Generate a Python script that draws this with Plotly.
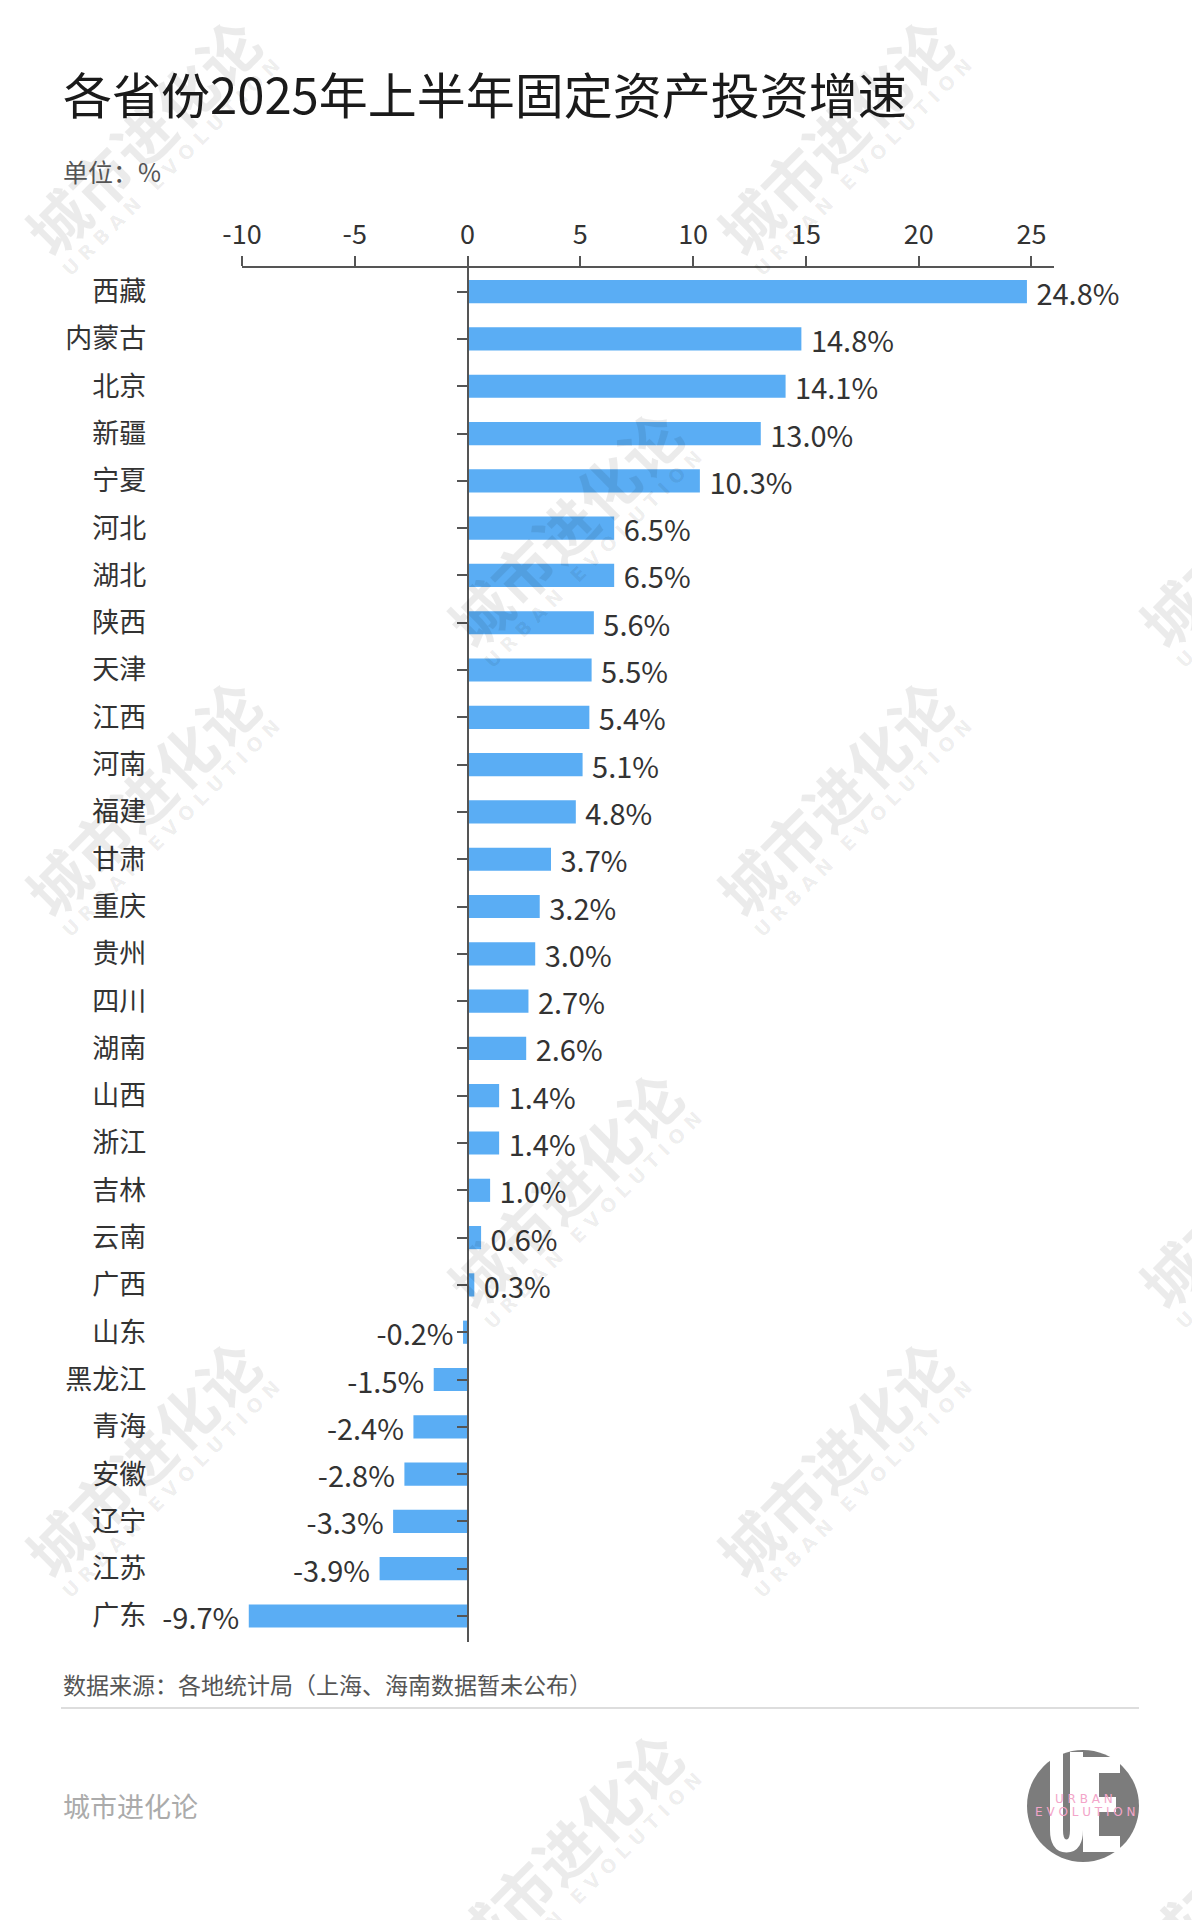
import plotly.graph_objects as go

provinces = ["西藏", "内蒙古", "北京", "新疆", "宁夏", "河北", "湖北", "陕西", "天津", "江西",
             "河南", "福建", "甘肃", "重庆", "贵州", "四川", "湖南", "山西", "浙江", "吉林",
             "云南", "广西", "山东", "黑龙江", "青海", "安徽", "辽宁", "江苏", "广东"]
growth = [24.8, 14.8, 14.1, 13.0, 10.3, 6.5, 6.5, 5.6, 5.5, 5.4,
          5.1, 4.8, 3.7, 3.2, 3.0, 2.7, 2.6, 1.4, 1.4, 1.0,
          0.6, 0.3, -0.2, -1.5, -2.4, -2.8, -3.3, -3.9, -9.7]
x_ticks = [-10, -5, 0, 5, 10, 15, 20, 25]
x_range = [-10, 26]

title = "各省份2025年上半年固定资产投资增速"
unit = "单位：%"
source = "数据来源：各地统计局（上海、海南数据暂未公布）"
brand = "城市进化论"

FONT = "Noto Sans CJK SC"
OFF = 8  # default body margin of the html page
W_FIG, H_FIG = 1200 - OFF, 1920 - OFF
# plot area in page pixels
PX0, PX1, PY0, PY1 = 242, 1054, 268, 1642
L, T = PX0 - OFF, PY0 - OFF
R, B = W_FIG - (PX1 - OFF), H_FIG - (PY1 - OFF)
PW, PH = PX1 - PX0, PY1 - PY0


def fx(px):
    return (px - PX0) / PW


def fy(py):
    return 1 - (py - PY0) / PH


labels = [(" %.1f%%" % v) if v >= 0 else ("%.1f%% " % v) for v in growth]

fig = go.Figure()
fig.add_trace(go.Bar(
    x=growth, y=provinces, orientation="h",
    marker=dict(color="#5AADF4", line=dict(width=0)),
    width=0.49,
    text=labels, textposition="outside", constraintext="none", cliponaxis=False,
    textfont=dict(family=FONT, size=29, color="#333333"),
    hoverinfo="skip",
))

annotations = []
# watermarks
WM = "rgba(0,0,0,0.08)"
wm_centers = [(141, 135), (833, 135), (563, 527), (1255, 527), (141, 796), (833, 796),
              (563, 1188), (1255, 1188), (141, 1457), (833, 1457), (563, 1849), (1255, 1849)]
for cx, cy in wm_centers:
    annotations.append(dict(x=fx(cx), y=fy(cy), xref="paper", yref="paper", text="<b>城市进化论</b>",
                            showarrow=False, textangle=-45, xanchor="center", yanchor="middle",
                            font=dict(family=FONT, size=60, color=WM)))
    annotations.append(dict(x=fx(cx + 30), y=fy(cy + 32), xref="paper", yref="paper",
                            text="<b>U R B A N   E V O L U T I O N</b>",
                            showarrow=False, textangle=-45, xanchor="center", yanchor="middle",
                            font=dict(family="DejaVu Sans", size=19, color=WM)))

annotations += [
    dict(x=fx(61), y=fy(92), xref="paper", yref="paper", text=title, showarrow=False,
         xanchor="left", yanchor="middle", font=dict(family=FONT, size=49, color="#1a1a1a")),
    dict(x=fx(61), y=fy(171), xref="paper", yref="paper", text=unit, showarrow=False,
         xanchor="left", yanchor="middle", font=dict(family=FONT, size=25, color="#555555")),
    dict(x=fx(61), y=fy(1684), xref="paper", yref="paper", text=source, showarrow=False,
         xanchor="left", yanchor="middle", font=dict(family=FONT, size=23, color="#555555")),
    dict(x=fx(61), y=fy(1805), xref="paper", yref="paper", text=brand, showarrow=False,
         xanchor="left", yanchor="middle", font=dict(family=FONT, size=27, color="#ababab")),
    # logo texts
    dict(x=fx(1084), y=fy(1799), xref="paper", yref="paper", text="U R B A N", showarrow=False,
         xanchor="center", yanchor="middle", font=dict(family="DejaVu Sans", size=12, color="#f3a5c9")),
    dict(x=fx(1085), y=fy(1812), xref="paper", yref="paper", text="E V O L U T I O N", showarrow=False,
         xanchor="center", yanchor="middle", font=dict(family="DejaVu Sans", size=12, color="#f3a5c9")),
]


def ppath(points_cmds):
    out = []
    for cmd, pts in points_cmds:
        coords = " ".join("%.5f,%.5f" % (fx(x), fy(y)) for x, y in pts)
        out.append(cmd + " " + coords)
    return " ".join(out)


def prect(x0, y0, x1, y1, color):
    return dict(type="rect", xref="paper", yref="paper", x0=fx(x0), x1=fx(x1), y0=fy(y0), y1=fy(y1),
                fillcolor=color, line=dict(width=0))


shapes = [
    dict(type="line", xref="paper", yref="paper", x0=fx(61), x1=fx(1139), y0=fy(1708), y1=fy(1708),
         line=dict(color="#dddddd", width=2)),
    dict(type="circle", xref="paper", yref="paper", x0=fx(1027), x1=fx(1139), y0=fy(1750), y1=fy(1862),
         fillcolor="#7c7c7c", line=dict(width=0), layer="below"),
    # U
    dict(type="path", xref="paper", yref="paper", layer="below",
         path=ppath([("M", [(1056.5, 1752)]), ("L", [(1056.5, 1830)]),
                     ("Q", [(1056.5, 1846), (1066.5, 1846)]),
                     ("Q", [(1076.5, 1846), (1076.5, 1830)]), ("L", [(1076.5, 1752)])]),
         line=dict(color="#ffffff", width=13)),
]
# E
for r in [(1083, 1757, 1099, 1852), (1083, 1757, 1120, 1773), (1083, 1797, 1116, 1812),
          (1083, 1836, 1120, 1852)]:
    s = prect(*r, "#ffffff")
    s["layer"] = "below"
    shapes.append(s)

fig.update_layout(
    width=W_FIG, height=H_FIG,
    margin=dict(l=L, r=R, t=T, b=B, autoexpand=False),
    paper_bgcolor="white", plot_bgcolor="rgba(0,0,0,0)",
    showlegend=False,
    font=dict(family=FONT, color="#333333"),
    annotations=annotations, shapes=shapes,
    xaxis=dict(range=x_range, side="top", tickvals=x_ticks, ticktext=[str(t) for t in x_ticks],
               ticks="outside", ticklen=10, tickwidth=2, tickcolor="#555555",
               showline=True, linecolor="#555555", linewidth=2,
               showgrid=False, zeroline=False, ticklabelstandoff=1,
               tickfont=dict(family=FONT, size=27, color="#333333")),
    yaxis=dict(type="category", categoryorder="array", categoryarray=provinces,
               range=[len(provinces) - 0.45, -0.5],
               anchor="free", position=(0 - x_range[0]) / (x_range[1] - x_range[0]),
               ticks="outside", ticklen=10, tickwidth=2, tickcolor="#555555",
               showline=True, linecolor="#555555", linewidth=2,
               showgrid=False, zeroline=False, ticklabelstandoff=305,
               tickfont=dict(family=FONT, size=27, color="#333333")),
)

fig.write_html("out.html")
